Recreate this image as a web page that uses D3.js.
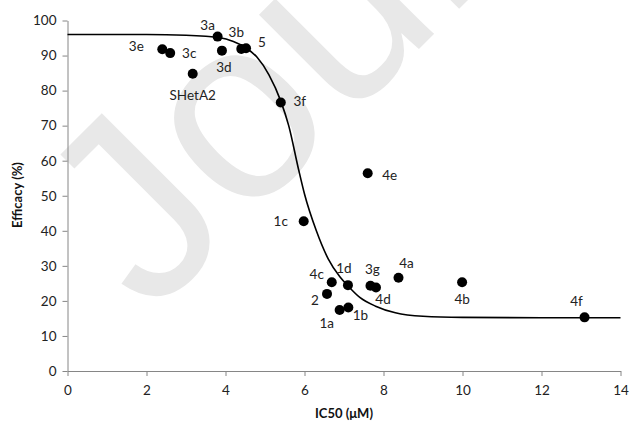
<!DOCTYPE html>
<html>
<head>
<meta charset="utf-8">
<script src="https://cdn.jsdelivr.net/npm/d3@7"></script>
<style>
  body { margin: 0; background: #fff; }
  svg text { font-family: Lato, "Open Sans", sans-serif; }
</style>
</head>
<body>
<div id="chart"></div>
<script>
"use strict";

// compounds
const names    = ["3e", "3c", "3a", "3d", "3b", "5", "SHetA2", "3f", "4e", "1c", "4c", "1d", "2", "1a", "1b", "3g", "4d", "4a", "4b", "4f"];
const ic50     = [2.40, 2.60, 3.80, 3.91, 4.40, 4.52, 3.17, 5.40, 7.60, 5.98, 6.69, 7.10, 6.57, 6.89, 7.11, 7.67, 7.81, 8.38, 9.99, 13.09];
const efficacy = [91.8, 90.7, 95.4, 91.4, 91.9, 92.1, 84.8, 76.6, 56.4, 42.7, 25.3, 24.5, 22.0, 17.4, 18.1, 24.3, 23.8, 26.6, 25.3, 15.3];

// fitted curve
const fitX = [0, 2, 3, 3.5, 3.8, 4.2, 4.5, 4.8, 5.1, 5.4, 5.6, 5.85, 6.0, 6.3, 6.6, 6.9, 7.1, 7.4, 7.8, 8.3, 9, 10, 12, 14];
const fitY = [96.0, 96.0, 95.8, 95.5, 95.2, 94.0, 92.3, 89.5, 84.5, 77.0, 70.0, 57.5, 50.5, 40.0, 32.0, 26.8, 24.3, 21.0, 18.5, 16.6, 15.6, 15.3, 15.2, 15.2];

const xTicks = [0, 2, 4, 6, 8, 10, 12, 14];
const yTicks = [0, 10, 20, 30, 40, 50, 60, 70, 80, 90, 100];

// where each label sits relative to its dot (px)
const labelOffset = {
    "3e": [-26, -3], "3c": [19, 0], "3a": [-10, -12], "3d": [2, 16], "3b": [-5, -17],
    "5": [16, -6], "SHetA2": [0, 21], "3f": [19, -2], "4e": [22, 2], "1c": [-23, 0],
    "4c": [-15, -8], "1d": [-4, -17], "2": [-12, 6], "1a": [-13, 13], "1b": [12, 7],
    "3g": [2, -17], "4d": [7, 11], "4a": [8, -15], "4b": [0, 17], "4f": [-8, -16]
};

const points = names.map((n, i) => ({ name: n, x: ic50[i], y: efficacy[i] }));
const curve = fitX.map((x, i) => ({ x: x, y: fitY[i] }));

const svgWidth = 630;
const svgHeight = 423;

const svg = d3.select("#chart")
    .append("svg")
    .attr("width", svgWidth)
    .attr("height", svgHeight);

// watermark
svg.append("text")
    .attr("transform", "translate(150,318) rotate(-45)")
    .attr("font-size", 260)
    .style("font-family", "'Liberation Sans', Arial, sans-serif")
    .attr("fill", "#e8e8e8")
    .text("Journal Pre-proof");

const xScale = d3.scaleLinear().domain([0, 14]).range([67.5, 620.5]);
const yScale = d3.scaleLinear().domain([0, 100]).range([371, 20.5]);

const xAxis = svg.append("g")
    .attr("transform", `translate(0,${yScale(0)})`)
    .call(d3.axisBottom(xScale).tickValues(xTicks).tickSize(5).tickSizeOuter(0).tickPadding(9));

const yAxis = svg.append("g")
    .attr("transform", `translate(${xScale(0)},0)`)
    .call(d3.axisLeft(yScale).tickValues(yTicks).tickSize(5).tickSizeOuter(0).tickPadding(6));

[xAxis, yAxis].forEach(g => {
    g.select(".domain").attr("stroke", "#868686");
    g.selectAll(".tick line").attr("stroke", "#868686");
    g.selectAll(".tick text")
        .attr("fill", "#222")
        .attr("font-size", 13.5)
        .style("font-family", "Lato, sans-serif");
});

const line = d3.line()
    .x(d => xScale(d.x))
    .y(d => yScale(d.y))
    .curve(d3.curveMonotoneX);

svg.append("path")
    .datum(curve)
    .attr("fill", "none")
    .attr("stroke", "#000")
    .attr("stroke-width", 1.6)
    .attr("d", line);

svg.selectAll(".dot")
    .data(points)
    .enter().append("circle")
    .attr("class", "dot")
    .attr("cx", d => xScale(d.x))
    .attr("cy", d => yScale(d.y))
    .attr("r", 5)
    .attr("fill", "#000");

svg.selectAll(".lbl")
    .data(points)
    .enter().append("text")
    .attr("class", "lbl")
    .attr("x", d => xScale(d.x) + labelOffset[d.name][0])
    .attr("y", d => yScale(d.y) + labelOffset[d.name][1])
    .attr("text-anchor", "middle")
    .attr("dominant-baseline", "central")
    .attr("font-size", 13.5)
    .attr("fill", "#222")
    .text(d => d.name);

// axis titles
svg.append("text")
    .attr("transform", "translate(17,195) rotate(-90)")
    .attr("text-anchor", "middle")
    .attr("dominant-baseline", "central")
    .attr("font-size", 13)
    .attr("font-weight", "bold")
    .attr("fill", "#111")
    .text("Efficacy (%)");

svg.append("text")
    .attr("x", 344)
    .attr("y", 413)
    .attr("text-anchor", "middle")
    .attr("dominant-baseline", "central")
    .attr("font-size", 13)
    .attr("font-weight", "bold")
    .attr("fill", "#111")
    .text("IC50 (μM)");
</script>
</body>
</html>
